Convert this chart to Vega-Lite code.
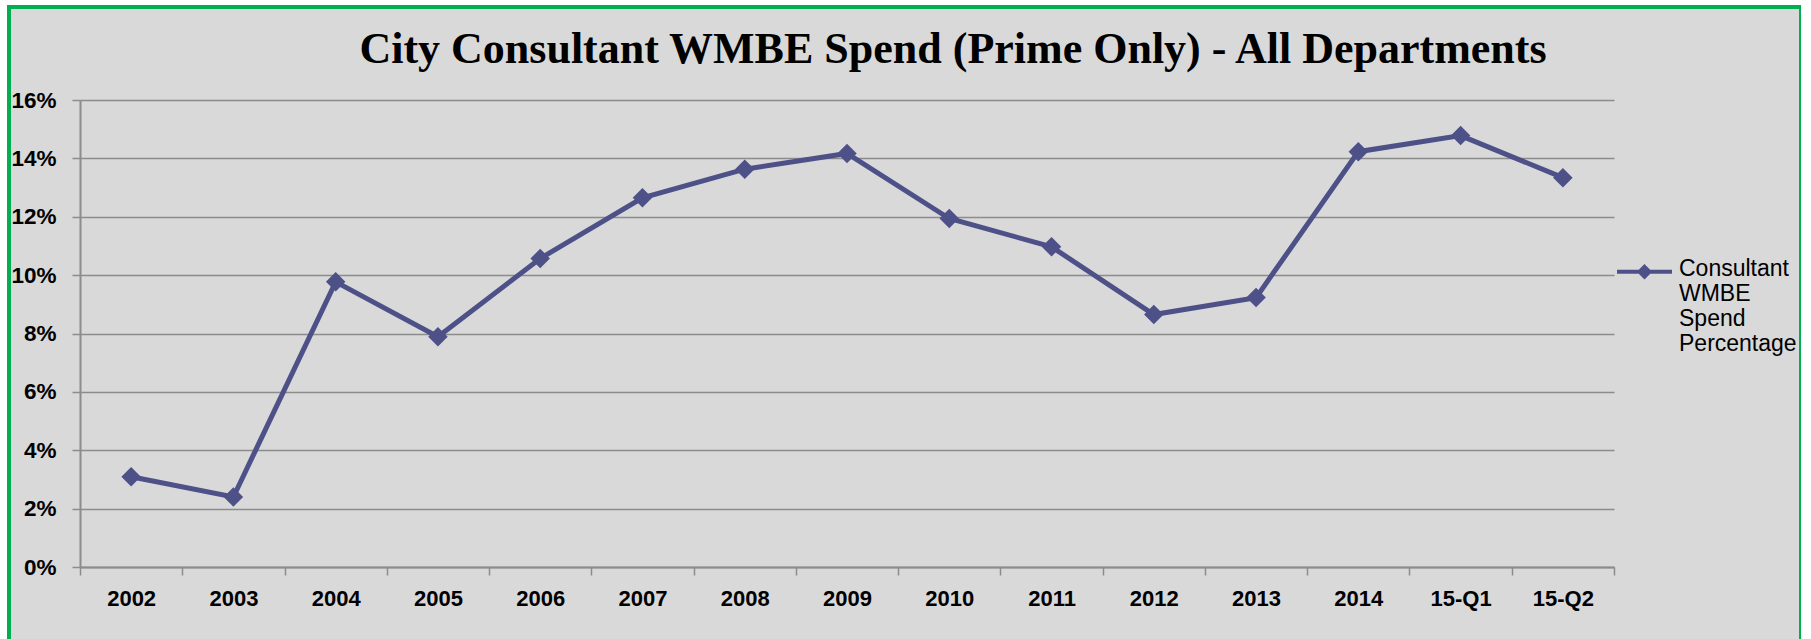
{
  "$schema": "https://vega.github.io/schema/vega-lite/v6.json",
  "width": 1792,
  "height": 640,
  "autosize": {"type": "none"},
  "padding": {"left": 9, "top": 7, "right": 0, "bottom": 0},
  "background": "#ffffff",
  "title": {
    "text": "City Consultant WMBE Spend (Prime Only) - All Departments",
    "font": "Liberation Serif",
    "fontSize": 44,
    "fontWeight": "bold",
    "color": "#000000",
    "anchor": "middle",
    "frame": "group",
    "orient": "top",
    "baseline": "alphabetic",
    "offset": 0,
    "dx": 48,
    "dy": 100
  },
  "data": {
    "values": [
      {"period": "2002", "pct": 0.0309, "series": "Consultant WMBE Spend Percentage"},
      {"period": "2003", "pct": 0.0240, "series": "Consultant WMBE Spend Percentage"},
      {"period": "2004", "pct": 0.0977, "series": "Consultant WMBE Spend Percentage"},
      {"period": "2005", "pct": 0.0789, "series": "Consultant WMBE Spend Percentage"},
      {"period": "2006", "pct": 0.1057, "series": "Consultant WMBE Spend Percentage"},
      {"period": "2007", "pct": 0.1265, "series": "Consultant WMBE Spend Percentage"},
      {"period": "2008", "pct": 0.1363, "series": "Consultant WMBE Spend Percentage"},
      {"period": "2009", "pct": 0.1417, "series": "Consultant WMBE Spend Percentage"},
      {"period": "2010", "pct": 0.1194, "series": "Consultant WMBE Spend Percentage"},
      {"period": "2011", "pct": 0.1097, "series": "Consultant WMBE Spend Percentage"},
      {"period": "2012", "pct": 0.0865, "series": "Consultant WMBE Spend Percentage"},
      {"period": "2013", "pct": 0.0923, "series": "Consultant WMBE Spend Percentage"},
      {"period": "2014", "pct": 0.1423, "series": "Consultant WMBE Spend Percentage"},
      {"period": "15-Q1", "pct": 0.1478, "series": "Consultant WMBE Spend Percentage"},
      {"period": "15-Q2", "pct": 0.1334, "series": "Consultant WMBE Spend Percentage"}
    ]
  },
  "mark": {
    "type": "line",
    "strokeWidth": 5,
    "point": {"shape": "diamond", "size": 380, "filled": true, "opacity": 1}
  },
  "encoding": {
    "x": {
      "field": "period",
      "type": "ordinal",
      "sort": null,
      "bandPosition": 0.5,
      "scale": {"type": "band", "range": [71, 1605], "paddingInner": 0, "paddingOuter": 0},
      "axis": {
        "title": null,
        "orient": "bottom",
        "offset": -80,
        "tickBand": "extent",
        "tickSize": 8,
        "tickWidth": 1.5,
        "tickColor": "#8c8c8c",
        "domainColor": "#8c8c8c",
        "domainWidth": 2,
        "grid": false,
        "labelAngle": 0,
        "labelFont": "Liberation Sans",
        "labelFontSize": 22,
        "labelFontWeight": "bold",
        "labelColor": "#000000",
        "labelPadding": 13
      }
    },
    "y": {
      "field": "pct",
      "type": "quantitative",
      "scale": {"domain": [0, 0.16], "range": [560, 93], "nice": false, "zero": true},
      "axis": {
        "title": null,
        "offset": -71,
        "values": [0, 0.02, 0.04, 0.06, 0.08, 0.1, 0.12, 0.14, 0.16],
        "format": ".0%",
        "tickSize": 8,
        "tickWidth": 1.5,
        "tickColor": "#8c8c8c",
        "domainColor": "#8c8c8c",
        "domainWidth": 2,
        "grid": true,
        "gridColor": "#8c8c8c",
        "gridWidth": 1.5,
        "labelFont": "Liberation Sans",
        "labelFontSize": 22.5,
        "labelFontWeight": "bold",
        "labelColor": "#000000",
        "labelPadding": 16
      }
    },
    "color": {
      "field": "series",
      "type": "nominal",
      "scale": {"range": ["#4d5188"]},
      "legend": {
        "title": null,
        "orient": "none",
        "legendX": 1606,
        "legendY": 221,
        "padding": 0,
        "symbolType": "M-1,0.52L1,0.52M0,0.34L0.18,0.52L0,0.7L-0.18,0.52Z",
        "symbolSize": 3025,
        "symbolStrokeWidth": 4,
        "symbolFillColor": "#4d5188",
        "symbolStrokeColor": "#4d5188",
        "labelFont": "Liberation Sans",
        "labelFontSize": 23,
        "labelColor": "#000000",
        "labelBaseline": "top",
        "labelOffset": 5,
        "labelLimit": 300,
        "labelExpr": "split(datum.label, ' ')"
      }
    }
  },
  "config": {
    "view": {"fill": "#d9d9d9", "stroke": "#00b050", "strokeWidth": 4}
  }
}
